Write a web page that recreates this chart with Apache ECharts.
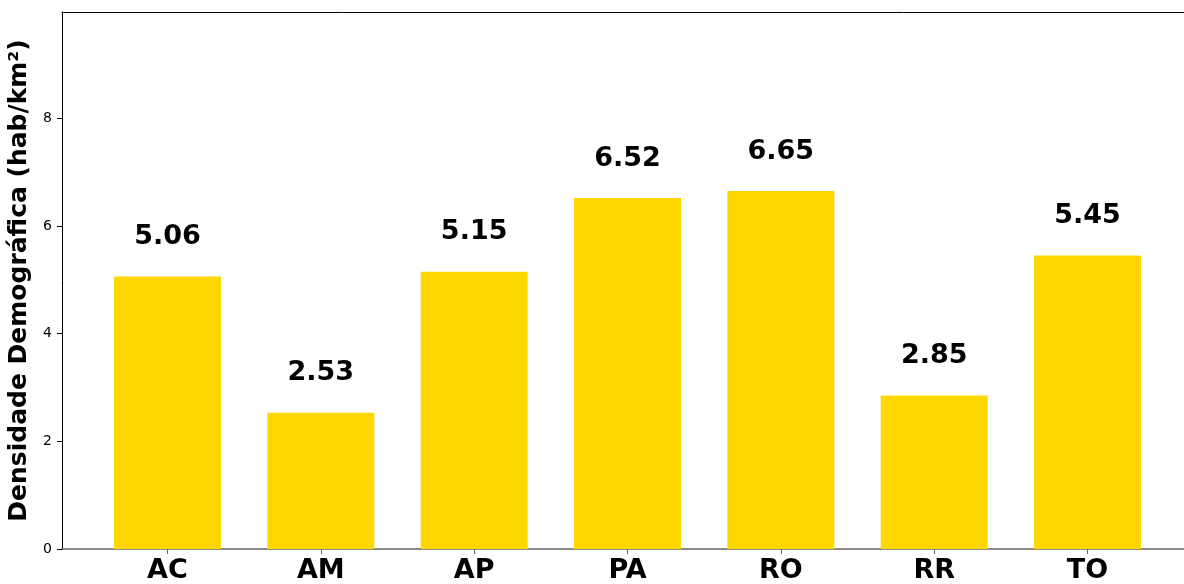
<!DOCTYPE html>
<html>
<head>
<meta charset="utf-8">
<script src="https://cdn.jsdelivr.net/npm/echarts@6/dist/echarts.min.js"></script>
<style>
  html, body { margin: 0; padding: 0; background: #fff; overflow: hidden; }
  #chart { width: 1184px; height: 584px; }
</style>
</head>
<body>
<div id="chart"></div>
<script>
const estados = ['AC', 'AM', 'AP', 'PA', 'RO', 'RR', 'TO']
const densidade = [5.06, 2.53, 5.15, 6.52, 6.65, 2.85, 5.45]
const yMax = 9.975

const chart = echarts.init(document.getElementById('chart'))

chart.setOption({
  animation: false,
  textStyle: { fontFamily: 'DejaVu Sans' },
  grid: [
    // moldura (eixos); a borda direita fica fora da imagem
    { left: 62, top: 12, bottom: 35, right: 0, outerBoundsMode: 'none' },
    // barras
    { left: 90.8, top: 12, bottom: 35, right: 19.8, outerBoundsMode: 'none' }
  ],
  xAxis: [
    {
      gridIndex: 0, type: 'value', min: 0, max: 1, position: 'bottom',
      axisLine: { show: true, lineStyle: { color: '#666', width: 1.5 } },
      axisTick: { show: false }, axisLabel: { show: false }, splitLine: { show: false }
    },
    {
      gridIndex: 0, type: 'value', min: 0, max: 1, position: 'top',
      axisLine: { show: true, lineStyle: { color: '#000', width: 1 } },
      axisTick: { show: false }, axisLabel: { show: false }, splitLine: { show: false }
    },
    {
      gridIndex: 1, type: 'category', data: estados,
      axisLine: { show: false },
      axisTick: { show: true, alignWithLabel: true, length: 5, lineStyle: { color: '#666' } },
      axisLabel: { color: '#000', fontSize: 27, fontWeight: 'bold', margin: 8 }
    }
  ],
  yAxis: [
    {
      gridIndex: 0, type: 'value', min: 0, max: yMax, interval: 2,
      name: 'Densidade Demográfica (hab/km²)',
      nameLocation: 'middle', nameGap: 20,
      nameTextStyle: { color: '#000', fontSize: 25, fontWeight: 'bold' },
      axisLine: { show: true, lineStyle: { color: '#000' } },
      axisTick: { show: true, length: 5, lineStyle: { color: '#000' } },
      axisLabel: { color: '#000', fontSize: 14, margin: 10, showMaxLabel: false },
      splitLine: { show: false }
    },
    {
      gridIndex: 1, type: 'value', min: 0, max: yMax, show: false
    }
  ],
  series: [
    {
      type: 'bar',
      xAxisIndex: 2,
      yAxisIndex: 1,
      data: densidade,
      barWidth: 107,
      itemStyle: { color: '#FFD700' },
      label: {
        show: true,
        position: 'top',
        distance: 26,
        color: '#000',
        fontSize: 27,
        fontWeight: 'bold',
        formatter: p => p.value.toFixed(2)
      }
    }
  ]
})
</script>
</body>
</html>
